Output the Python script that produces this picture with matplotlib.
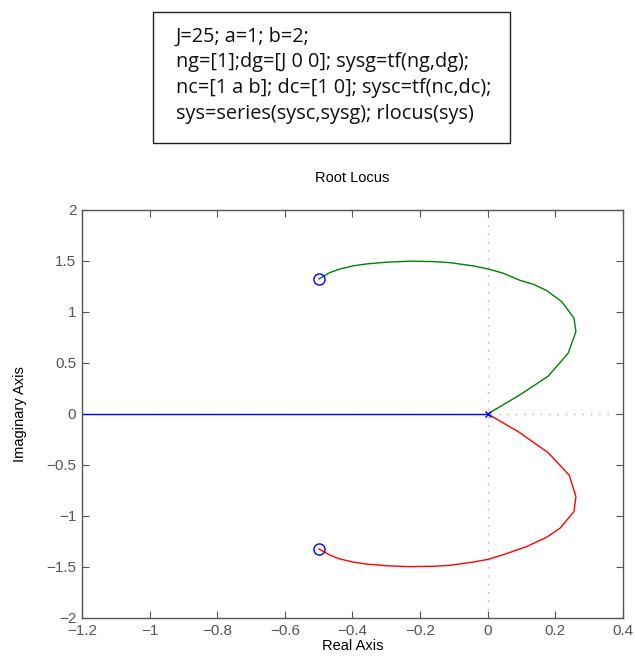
import numpy as np
import matplotlib
matplotlib.use('Agg')
import matplotlib.pyplot as plt

code_lines = [
    "J=25; a=1; b=2;",
    "ng=[1];dg=[J 0 0]; sysg=tf(ng,dg);",
    "nc=[1 a b]; dc=[1 0]; sysc=tf(nc,dc);",
    "sys=series(sysc,sysg); rlocus(sys)",
]

# ветви корневого годографа
green_re = [-0.499, -0.467, -0.437, -0.398, -0.358, -0.299, -0.23, -0.161, -0.112,
            -0.043, 0.002, 0.046, 0.095, 0.135, 0.174, 0.219, 0.255, 0.261,
            0.238, 0.179, 0.095, 0.0]
green_im = [1.323, 1.385, 1.42, 1.451, 1.47, 1.487, 1.497, 1.493, 1.483,
            1.451, 1.42, 1.379, 1.31, 1.27, 1.21, 1.10, 0.94, 0.807,
            0.595, 0.37, 0.186, 0.0]
red_re = [-0.499, -0.467, -0.437, -0.398, -0.358, -0.299, -0.23, -0.161, -0.112,
          -0.043, 0.002, 0.046, 0.115, 0.174, 0.214, 0.255, 0.261,
          0.241, 0.179, 0.091, 0.0]
red_im = [-1.323, -1.383, -1.422, -1.452, -1.472, -1.488, -1.497, -1.493, -1.484,
          -1.452, -1.425, -1.38, -1.30, -1.21, -1.12, -0.958, -0.81,
          -0.6, -0.38, -0.175, 0.0]
blue_re = [-1.2, 0.0]
blue_im = [0.0, 0.0]

zeros_re = [-0.5, -0.5]
zeros_im = [1.3229, -1.3229]
poles_re = [0.0]
poles_im = [0.0]

xticks = [-1.2, -1, -0.8, -0.6, -0.4, -0.2, 0, 0.2, 0.4]
xlabels = ['\u22121.2', '\u22121', '\u22120.8', '\u22120.6', '\u22120.4', '\u22120.2', '0', '0.2', '0.4']
yticks = [-2, -1.5, -1, -0.5, 0, 0.5, 1, 1.5, 2]
ylabels = ['\u22122', '\u22121.5', '\u22121', '\u22120.5', '0', '0.5', '1', '1.5', '2']

plt.rcParams['font.family'] = ['Liberation Sans', 'DejaVu Sans']

fig = plt.figure(figsize=(6.35, 6.62), dpi=100)
ax = fig.add_axes([0.129, 0.0665, 0.852, 0.6165])

ax.plot([0, 0], [-2, 2], ls=(0, (1, 5)), color='#b0b0b0', lw=1, zorder=1)
ax.plot([-1.2, 0.4], [0, 0], ls=(0, (1, 5)), color='#b0b0b0', lw=1, zorder=1)

ax.plot(blue_re, blue_im, color='#0000ff', lw=1, zorder=2)
ax.plot(green_re, green_im, color='#008000', lw=1, zorder=2)
ax.plot(red_re, red_im, color='#ff0000', lw=1, zorder=2)
ax.plot(zeros_re, zeros_im, 'o', mfc='none', mec='#0000ff', ms=8, mew=1, zorder=3)
ax.plot(poles_re, poles_im, 'x', color='#0000ff', ms=5, mew=1, zorder=3)

ax.set_xlim(-1.2, 0.4)
ax.set_ylim(-2, 2)
ax.set_xticks(xticks)
ax.set_xticklabels(xlabels)
ax.set_yticks(yticks)
ax.set_yticklabels(ylabels)
ax.tick_params(direction='in', top=True, right=True, length=5, width=0.8,
               color='#555555', labelcolor='#555555', labelsize=11, pad=4)
for sp in ax.spines.values():
    sp.set_color('#555555')
    sp.set_linewidth(1)

ax.set_xlabel('Real Axis', fontsize=10.5, labelpad=1)
ax.set_ylabel('Imaginary Axis', fontsize=10.5, labelpad=14)
ax.set_title('Root Locus', fontsize=10.5, pad=20)

# блок с кодом
fig.patches.append(plt.Rectangle((153 / 635, 1 - 143 / 662), 357 / 635, 131 / 662,
                                 transform=fig.transFigure, fill=False,
                                 edgecolor='#222222', lw=1))
for i, line in enumerate(code_lines):
    fig.text(176 / 635, 1 - (37 + 25.5 * i) / 662, line, family=['Open Sans', 'DejaVu Sans'],
             fontsize=14.3, va='center', ha='left', color='#111111')

fig.savefig('out.png', dpi=100)
